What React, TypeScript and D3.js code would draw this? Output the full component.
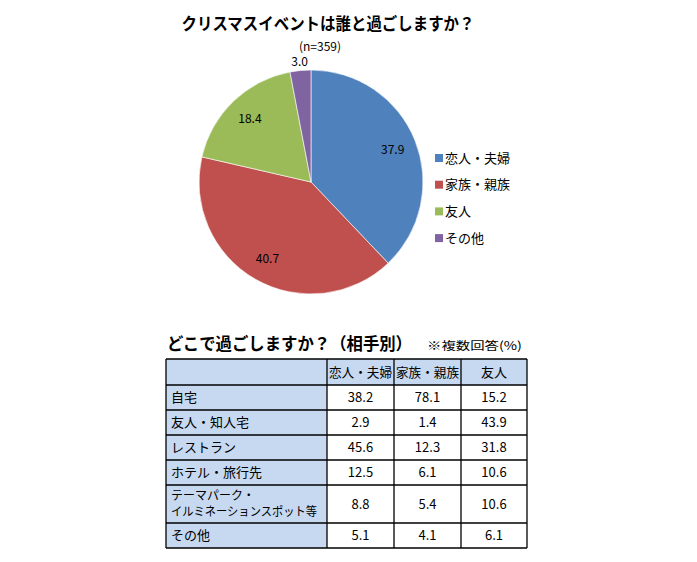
import React from "react";
import * as d3 from "d3";

const pieCategories = ["恋人・夫婦", "家族・親族", "友人", "その他"];
const pieValues = [37.9, 40.7, 18.4, 3.0];
const pieColors = ["#4F81BD", "#C0504D", "#9BBB59", "#8064A2"];

const tableColumns = ["恋人・夫婦", "家族・親族", "友人"];
const tableRows = ["自宅", "友人・知人宅", "レストラン", "ホテル・旅行先", "テーマパーク・\nイルミネーションスポット等", "その他"];
const coupleValues = ["38.2", "2.9", "45.6", "12.5", "8.8", "5.1"];
const familyValues = ["78.1", "1.4", "12.3", "6.1", "5.4", "4.1"];
const friendValues = ["15.2", "43.9", "31.8", "10.6", "10.6", "6.1"];

const FONT = "'Noto Sans CJK JP', 'Noto Sans', sans-serif";

export default function App() {
  const W = 697, H = 562;
  const cx = 311, cy = 182, r = 112;
  const pie = d3.pie<number>().sort(null).value((d) => d);
  const arcs = pie(pieValues);
  const arcGen = d3.arc<d3.PieArcDatum<number>>().innerRadius(0).outerRadius(r);

  // table geometry
  const colX = [166, 327, 394, 461, 527];
  const rowHeights = [26, 25, 25, 25, 25, 38, 25];
  const rowY = [359];
  rowHeights.forEach((h) => rowY.push(rowY[rowY.length - 1] + h));
  const colValues = [coupleValues, familyValues, friendValues];
  const headerFill = "#C6D9F1";

  return (
    <div style={{ width: W, height: H, margin: -8 }}>
      <svg width={W} height={H} style={{ display: "block", background: "#fff" }} fontFamily={FONT}>
        <text x={328} y={30} textAnchor="middle" fontSize={17} fontWeight="bold" textLength={293} lengthAdjust="spacingAndGlyphs" fill="#000">
          クリスマスイベントは誰と過ごしますか？
        </text>
        <text x={320} y={51} textAnchor="middle" fontSize={12} fill="#000">(n=359)</text>

        <g transform={`translate(${cx},${cy})`}>
          {arcs.map((a, i) => (
            <path key={i} d={arcGen(a) || ""} fill={pieColors[i]} stroke="#fff" strokeWidth={0.6} />
          ))}
          {arcs.map((a, i) => {
            const mid = (a.startAngle + a.endAngle) / 2;
            const rr = i === 3 ? 121 : 88;
            const x = Math.sin(mid) * rr;
            const y = -Math.cos(mid) * rr;
            return (
              <text key={"l" + i} x={x} y={y} dy="0.35em" textAnchor="middle" fontSize={12} fill="#000">
                {pieValues[i].toFixed(1)}
              </text>
            );
          })}
        </g>

        {pieCategories.map((c, i) => (
          <g key={c} transform={`translate(435,${158 + i * 26.7})`}>
            <rect x={0} y={-4} width={8} height={8} fill={pieColors[i]} />
            <text x={10} y={0} dy="0.36em" fontSize={13} fill="#000">{c}</text>
          </g>
        ))}

        <text x={167} y={350} fontSize={17} fontWeight="bold" textLength={245} lengthAdjust="spacingAndGlyphs" fill="#000">
          どこで過ごしますか？（相手別）
        </text>
        <text x={427} y={350} fontSize={11.5} textLength={95} lengthAdjust="spacingAndGlyphs" fill="#000">※複数回答(%)</text>

        {/* table fills */}
        <rect x={colX[0]} y={rowY[0]} width={colX[4] - colX[0]} height={rowHeights[0]} fill={headerFill} />
        {tableRows.map((_, i) => (
          <rect key={"f" + i} x={colX[0]} y={rowY[i + 1]} width={colX[1] - colX[0]} height={rowHeights[i + 1]} fill={headerFill} />
        ))}
        {tableColumns.map((c, j) => (
          <text key={c} x={(colX[j + 1] + colX[j + 2]) / 2} y={rowY[0] + rowHeights[0] / 2} dy="0.36em" textAnchor="middle" fontSize={13}
            textLength={c.length > 2 ? 63 : undefined} lengthAdjust="spacingAndGlyphs" fill="#000">
            {c}
          </text>
        ))}
        {tableRows.map((rw, i) => {
          const lines = rw.split("\n");
          const yc = rowY[i + 1] + rowHeights[i + 1] / 2;
          const fs = lines.length > 1 ? 12 : 13;
          return (
            <g key={"r" + i}>
              {lines.map((ln, k) => (
                <text key={k} x={171} y={yc + (k - (lines.length - 1) / 2) * 16} dy="0.36em" fontSize={fs} fill="#000"
                  textLength={ln.length > 10 ? 146 : undefined} lengthAdjust="spacingAndGlyphs">
                  {ln}
                </text>
              ))}
              {colValues.map((vals, j) => (
                <text key={j} x={(colX[j + 1] + colX[j + 2]) / 2} y={yc} dy="0.36em" textAnchor="middle" fontSize={13} fill="#000">
                  {vals[i]}
                </text>
              ))}
            </g>
          );
        })}
        {/* grid lines */}
        {rowY.map((y, i) => (
          <line key={"h" + i} x1={colX[0]} x2={colX[4]} y1={y} y2={y} stroke="#000" strokeWidth={1.3} />
        ))}
        {colX.map((x, i) => (
          <line key={"v" + i} x1={x} x2={x} y1={rowY[0]} y2={rowY[rowY.length - 1]} stroke="#000" strokeWidth={1.3} />
        ))}
      </svg>
    </div>
  );
}
